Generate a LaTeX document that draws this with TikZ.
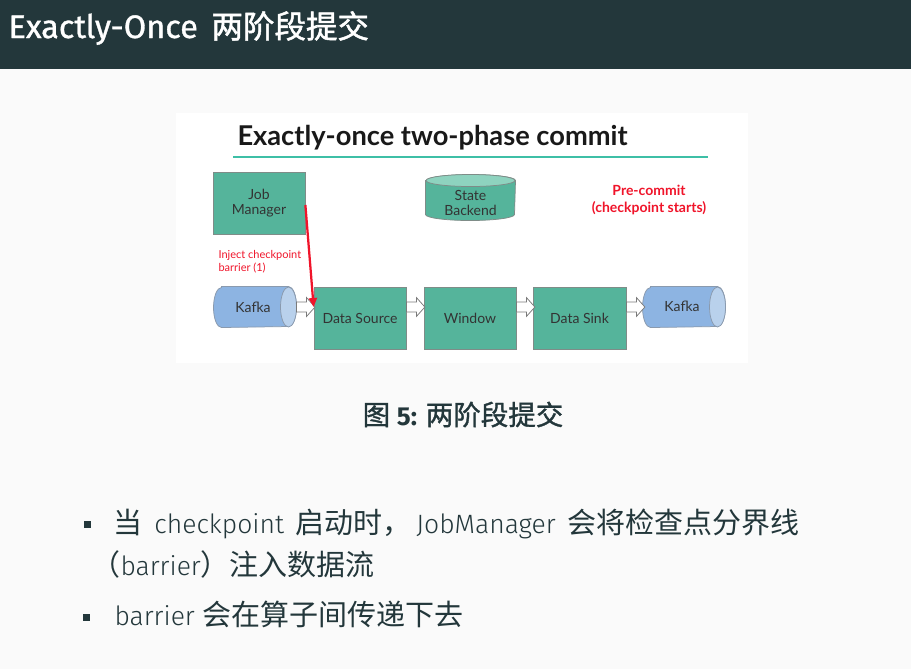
\documentclass[tikz,border=0pt]{standalone}
\usepackage{fontspec}
\setmainfont{Fira Sans}
\newfontfamily\firal{Fira Sans Light}
\newfontfamily\cjk{Noto Sans CJK SC}
\newfontfamily\lato{Lato}
\usetikzlibrary{calc,arrows.meta}
\definecolor{mdark}{HTML}{23373B}
\definecolor{bgc}{HTML}{FAFAFA}
\definecolor{boxg}{HTML}{55B49B}
\definecolor{boxe}{HTML}{7F8C88}
\definecolor{kblue}{HTML}{8DB4E2}
\definecolor{kedge}{HTML}{8A9AAE}
\definecolor{kend}{HTML}{B9D1EC}
\definecolor{cyltop}{HTML}{8ED3BF}
\definecolor{redc}{HTML}{F0142A}
\definecolor{tealline}{HTML}{3DBFA6}
\definecolor{harrc}{HTML}{7A7A7A}
\newcommand\zh[1]{{\cjk\fontsize{11.6}{14}\selectfont #1}}
\newcommand\gp{\hspace{1.8pt}}
\tikzset{
  box/.style={draw=boxe, line width=0.3pt, fill=boxg, inner sep=0, align=center,
    minimum width=36.8pt, minimum height=24.8pt,
    font=\lato\fontsize{5.6}{6}\selectfont, text=black!80},
  plain/.style={inner sep=0, align=center, font=\lato\fontsize{5.6}{6}\selectfont, text=black!80},
  harrow/.style={draw=harrc, fill=white, line width=0.3pt, line join=miter},
  bul/.style={rectangle, fill=mdark, inner sep=0, minimum size=2.8pt},
  body/.style={inner sep=0, anchor=base west, text=mdark, font=\firal\fontsize{10.6}{14}\selectfont},
}
\newcommand\hollowarrow[1]{%
  \draw[harrow] ($(#1)+(0,5)$) -- ++(10,0) -- ++(0,4.5) -- ++(8.5,-9.5) -- ++(-8.5,-9.5) -- ++(0,4.5) -- ++(-10,0) -- cycle;}
\begin{document}
\begin{tikzpicture}[x=0.4pt,y=0.4pt]
\useasboundingbox (0,0) rectangle (911,-669);
\fill[bgc] (0,0) rectangle (911,-669);
\fill[mdark] (0,0) rectangle (911,-69);
\node[anchor=base west, text=white, inner sep=0, font=\fontsize{13}{14}\selectfont\addfontfeature{FakeBold=1}] (title) at (8,-38) {Exactly-Once\hspace{2pt} {\cjk\fontsize{12.6}{14}\selectfont\addfontfeature{FakeBold=1.5}两阶段提交}};

% image
\fill[white] (176,-113) rectangle (748,-363);
\node[anchor=base west, inner sep=0, text=black!90, font=\lato\bfseries\fontsize{10.9}{12}\selectfont] (it) at (237,-145) {Exactly-once two-phase commit};
\coordinate (ul1) at (233,-157); \coordinate (ul2) at (708,-157);
\draw[tealline, line width=0.6pt] (ul1) -- (ul2);

\node[box] (jm) at (259,-203) {Job\\Manager};

% state backend
\node[inner sep=0, minimum width=35.6pt, minimum height=18pt] (sb) at (470.5,-197.5) {};
\path[draw=boxe, line width=0.3pt, fill=boxg] ($(sb.north west)+(0,-6)$) -- ($(sb.south west)+(0,6)$)
  arc[start angle=180, end angle=360, x radius=44.5, y radius=6] -- ($(sb.north east)+(0,-6)$)
  arc[start angle=0, end angle=180, x radius=44.5, y radius=6] -- cycle;
\draw[boxe, line width=0.3pt, fill=cyltop] ($(sb.north)+(0,-6)$) ellipse[x radius=44.5, y radius=6];
\node[plain] (sbt) at (470.5,-203) {State\\Backend};

\node[plain, text=redc, font=\lato\bfseries\fontsize{5.6}{6.8}\selectfont] (pc) at (649,-199.5) {Pre-commit\\(checkpoint starts)};

% kafka cylinders
\node[inner sep=0, minimum width=32.8pt, minimum height=16pt] (k1) at (255,-307) {};
\node[inner sep=0, minimum width=32.8pt, minimum height=16pt] (k2) at (684,-307) {};
\foreach \k in {k1,k2}{
  \path[draw=kedge, line width=0.3pt, fill=kblue] ($(\k.north west)+(8,0)$) -- ($(\k.north east)+(-8,0)$)
    arc[start angle=90, end angle=-90, x radius=8, y radius=20] -- ($(\k.south west)+(8,0)$)
    arc[start angle=270, end angle=90, x radius=8, y radius=20] -- cycle;
  \draw[kedge, line width=0.3pt, fill=kend] ($(\k.east)+(-8,0)$) ellipse[x radius=8, y radius=20];
}
\node[plain] (k1t) at (253,-307) {Kafka};
\node[plain] (k2t) at (682,-306) {Kafka};

\node[box] (ds) at (360,-318) {Data Source};
\node[box] (win) at (470,-318) {Window};
\node[box, minimum width=37.2pt] (dk) at (579.5,-318) {Data Sink};

\hollowarrow{k1.east}
\hollowarrow{ds.east |- k1.east}
\hollowarrow{win.east |- k1.east}
\hollowarrow{dk.east |- k1.east}

\node[inner sep=0, anchor=west, align=left, text=redc, font=\lato\fontsize{4.4}{5.2}\selectfont] (inj) at (218,-261.5) {Inject checkpoint\\barrier (1)};
\draw[redc, line width=0.9pt, -{Triangle[length=3.6pt,width=3.2pt]}] ($(jm.east)+(0,-2)$) -- ($(ds.west)+(0,11)$);

% caption
\node[inner sep=0, anchor=base, text=mdark] (cap) at (463,-425) {{\cjk\fontsize{11}{12}\selectfont\addfontfeature{FakeBold=1.2}图} {\bfseries\fontsize{10.4}{12}\selectfont 5:} {\cjk\fontsize{11}{12}\selectfont\addfontfeature{FakeBold=1.2}两阶段提交}};

% bullets
\node[bul] (b1) at (87,-524) {};
\node[bul] (b2) at (86,-617) {};
\node[body] (l1) at (113,-533) {\zh{当}\gp{} checkpoint\gp{} \zh{启动时，}\gp{}JobManager\gp{} \zh{会将检查点分界线}};
\node[body] (l2) at (91,-575) {\zh{（}barrier\zh{）注入数据流}};
\node[body] (l3) at (114,-625) {barrier \zh{会在算子间传递下去}};
\end{tikzpicture}
\end{document}
